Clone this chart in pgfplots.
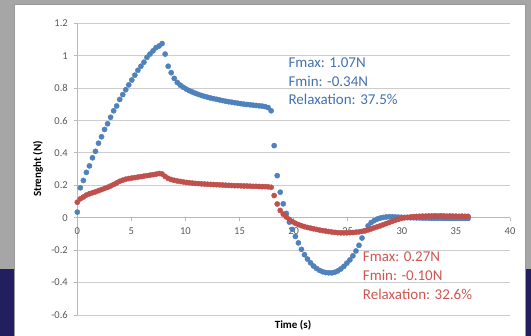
\documentclass[border=0pt]{standalone}
\usepackage{pgfplots}
\pgfplotsset{compat=1.18}
\usepackage{pgfplotstable}
\usepackage{fontspec}
\setmainfont{Carlito}
\definecolor{bggray}{RGB}{166,166,166}
\definecolor{navy}{RGB}{35,31,94}
\definecolor{sblue}{RGB}{79,129,189}
\definecolor{sred}{RGB}{192,80,77}
\definecolor{tblue}{RGB}{68,114,176}
\definecolor{tred}{RGB}{206,86,82}
\definecolor{gridc}{RGB}{205,205,205}
\definecolor{axc}{RGB}{185,185,185}
\definecolor{tickc}{RGB}{89,89,89}

\pgfplotstableread{
t y
0.00 0.035
0.28 0.185
0.56 0.23
0.84 0.28
1.12 0.32
1.40 0.37
1.68 0.41
1.96 0.46
2.24 0.50
2.52 0.545
2.80 0.58
3.08 0.62
3.36 0.66
3.64 0.69
3.92 0.73
4.20 0.76
4.48 0.79
4.76 0.82
5.04 0.85
5.32 0.88
5.60 0.91
5.88 0.935
6.16 0.96
6.44 0.99
6.72 1.01
7.00 1.03
7.28 1.05
7.56 1.06
7.84 1.075
8.12 1.01
8.40 0.935
8.68 0.895
8.96 0.86
9.24 0.835
9.52 0.818
9.80 0.805
10.08 0.794
10.36 0.784
10.64 0.776
10.92 0.768
11.20 0.761
11.48 0.755
11.76 0.749
12.04 0.744
12.32 0.739
12.60 0.735
12.88 0.731
13.16 0.727
13.44 0.723
13.72 0.719
14.00 0.716
14.28 0.713
14.56 0.710
14.84 0.707
15.12 0.704
15.40 0.701
15.68 0.699
15.96 0.697
16.24 0.695
16.52 0.693
16.80 0.691
17.08 0.689
17.36 0.686
17.64 0.680
17.92 0.660
18.20 0.445
18.48 0.26
18.76 0.158
19.04 0.086
19.32 0.027
19.60 -0.027
19.88 -0.072
20.16 -0.115
20.44 -0.155
20.72 -0.195
21.00 -0.228
21.28 -0.255
21.56 -0.278
21.84 -0.298
22.12 -0.313
22.40 -0.325
22.68 -0.333
22.96 -0.338
23.24 -0.340
23.52 -0.340
23.80 -0.336
24.08 -0.328
24.36 -0.316
24.64 -0.300
24.92 -0.280
25.20 -0.260
25.48 -0.235
25.76 -0.205
26.04 -0.170
26.32 -0.125
26.60 -0.080
26.88 -0.050
27.16 -0.030
27.44 -0.018
27.72 -0.008
28.00 -0.002
28.28 0.002
28.56 0.005
28.84 0.006
29.12 0.006
29.40 0.005
29.68 0.004
29.96 0.003
30.24 0.002
30.52 0.001
30.80 0.000
31.08 0.000
31.36 -0.001
31.64 -0.001
31.92 -0.002
32.20 -0.002
32.48 -0.002
32.76 -0.003
33.04 -0.003
33.32 -0.003
33.60 -0.003
33.88 -0.004
34.16 -0.004
34.44 -0.004
34.72 -0.004
35.00 -0.004
35.28 -0.004
35.56 -0.004
35.84 -0.004
36.12 -0.004
}\blue

\pgfplotstableread{
t y
0.00 0.096
0.28 0.117
0.56 0.128
0.84 0.140
1.12 0.148
1.40 0.154
1.68 0.160
1.96 0.167
2.24 0.174
2.52 0.181
2.80 0.188
3.08 0.196
3.36 0.205
3.64 0.215
3.92 0.225
4.20 0.232
4.48 0.238
4.76 0.242
5.04 0.245
5.32 0.248
5.60 0.251
5.88 0.254
6.16 0.257
6.44 0.260
6.72 0.263
7.00 0.266
7.28 0.269
7.56 0.273
7.84 0.270
8.12 0.255
8.40 0.243
8.68 0.236
8.96 0.231
9.24 0.227
9.52 0.224
9.80 0.221
10.08 0.218
10.36 0.216
10.64 0.214
10.92 0.212
11.20 0.211
11.48 0.209
11.76 0.208
12.04 0.207
12.32 0.206
12.60 0.205
12.88 0.204
13.16 0.203
13.44 0.202
13.72 0.201
14.00 0.200
14.28 0.199
14.56 0.198
14.84 0.198
15.12 0.197
15.40 0.196
15.68 0.196
15.96 0.195
16.24 0.194
16.52 0.194
16.80 0.193
17.08 0.192
17.36 0.192
17.64 0.191
17.92 0.188
18.20 0.137
18.48 0.085
18.76 0.045
19.04 0.022
19.32 0.005
19.60 -0.010
19.88 -0.024
20.16 -0.034
20.44 -0.042
20.72 -0.049
21.00 -0.055
21.28 -0.060
21.56 -0.064
21.84 -0.068
22.12 -0.072
22.40 -0.076
22.68 -0.079
22.96 -0.082
23.24 -0.085
23.52 -0.088
23.80 -0.090
24.08 -0.092
24.36 -0.093
24.64 -0.093
24.92 -0.093
25.20 -0.092
25.48 -0.091
25.76 -0.089
26.04 -0.087
26.32 -0.084
26.60 -0.080
26.88 -0.075
27.16 -0.069
27.44 -0.062
27.72 -0.056
28.00 -0.050
28.28 -0.043
28.56 -0.036
28.84 -0.029
29.12 -0.022
29.40 -0.015
29.68 -0.009
29.96 -0.004
30.24 0.000
30.52 0.003
30.80 0.005
31.08 0.007
31.36 0.008
31.64 0.009
31.92 0.010
32.20 0.010
32.48 0.011
32.76 0.011
33.04 0.012
33.32 0.011
33.60 0.012
33.88 0.011
34.16 0.010
34.44 0.011
34.72 0.010
35.00 0.010
35.28 0.009
35.56 0.010
35.84 0.009
36.12 0.009
}\red

\begin{document}
\begin{tikzpicture}
\useasboundingbox (0,0) rectangle (531bp,336bp);
\fill[bggray] (0,0) rectangle (531bp,336bp);
\fill[navy] (0,0) rectangle (531bp,67bp);
\filldraw[fill=white, draw=gray!80, line width=0.7bp] (14bp,-2bp) rectangle (525.5bp,332bp);
\begin{axis}[
  at={(77.3bp,21bp)}, anchor=south west,
  scale only axis, width=432.7bp, height=291.7bp,
  xmin=0, xmax=40, ymin=-0.6, ymax=1.2,
  axis x line=middle, axis y line=left,
  hide obscured x ticks=false, hide obscured y ticks=false,
  axis line style={draw=axc, line width=0.9bp, -},
  xtick={0,5,10,15,20,25,30,35,40},
  xticklabels={0,5,10,15,20,25,30,35,40},
  ytick={-0.6,-0.4,-0.2,0,0.2,0.4,0.6,0.8,1,1.2},
  yticklabels={-0.6,-0.4,-0.2,0,0.2,0.4,0.6,0.8,1,1.2},
  ymajorgrids,
  grid style={draw=gridc, line width=0.9bp},
  tick align=outside,
  major tick length=3.5bp,
  tick style={draw=axc, line width=0.9bp},
  ticklabel style={font=\fontsize{10.5bp}{12bp}\selectfont, text=tickc},
  xticklabel style={yshift=-3bp},
  yticklabel style={xshift=-2.5bp},
  clip=false,
]
\addplot[only marks, mark=*, mark size=2.6bp, color=sblue] table[x=t,y=y] {\blue};
\addplot[only marks, mark=*, mark size=2.6bp, color=sred] table[x=t,y=y] {\red};
\end{axis}
\node[anchor=base, font=\bfseries\fontsize{11bp}{13bp}\selectfont, text=black] at (293bp,8bp) {Time (s)};
\node[rotate=90, font=\bfseries\fontsize{11bp}{13bp}\selectfont, text=black] at (38bp,167bp) {Strenght (N)};
\begin{scope}[every node/.style={anchor=base west, inner sep=0pt, font=\fontsize{15bp}{18bp}\selectfont}]
\node[text=tblue] at (288.3bp,268bp) {Fmax: 1.07N};
\node[text=tblue] at (288.3bp,249.5bp) {Fmin: -0.34N};
\node[text=tblue] at (288.3bp,231bp) {Relaxation: 37.5\%};
\node[text=tred] at (362.7bp,74bp) {Fmax: 0.27N};
\node[text=tred] at (362.7bp,55.3bp) {Fmin: -0.10N};
\node[text=tred] at (362.7bp,36.3bp) {Relaxation: 32.6\%};
\end{scope}
\end{tikzpicture}
\end{document}
